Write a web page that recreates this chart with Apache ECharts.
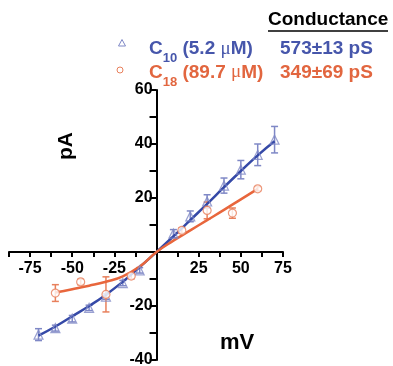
<!DOCTYPE html>
<html><head><meta charset="utf-8">
<script src="https://cdn.jsdelivr.net/npm/echarts@6/dist/echarts.min.js"></script>
<style>html,body{margin:0;padding:0;background:#fff}#c{width:393px;height:366px}</style>
</head><body><div id="c"></div>
<script>
// C10 (blue triangles)
const c10X   = [-70, -60, -50, -40, -30, -20, -10, 10, 20, 30, 40, 50, 60, 70];
const c10Y   = [-30.6, -28.2, -24.7, -20.7, -16.5, -11.5, -6.8, 6.8, 13.2, 18.7, 24.6, 30.5, 36.0, 41.6];
const c10Err = [2.2, 1.1, 1.2, 1.0, 1.0, 1.0, 1.0, 1.5, 2.0, 2.5, 2.8, 3.4, 4.0, 4.9];
// C18 (orange circles)
const c18X   = [-60, -45, -30, -15, 15, 30, 45, 60];
const c18Y   = [-15.2, -11.1, -15.7, -8.9, 8.0, 15.4, 14.4, 23.4];
const c18Err = [3.1, 1.0, 6.5, 1.0, 1.0, 3.1, 1.9, 0.8];
// Fit curves
const fitC10X = [-70, -60, -50, -40, -30, -20, -10, 0, 10, 20, 30, 40, 50, 60, 70];
const fitC10Y = [-31, -27.6, -23.8, -20, -15.8, -11, -5.6, 0, 5.8, 11.8, 17.8, 24, 30, 35.8, 41];
const fitC18X = [-60, -50, -40, -30, -20, -10, 0, 10, 20, 30, 40, 50, 60];
const fitC18Y = [-15, -13.8, -12.5, -11, -9, -5.4, 0, 4.2, 8.0, 11.8, 15.6, 19.5, 23.4];

const xTickLabels = ['-75', '-50', '-25', '25', '50', '75'];
const yTickLabels = ['60', '40', '20', '-20', '-40'];

const BLUE_LINE = '#3549a7', BLUE_MK = '#7f88c6', BLUE_TXT = '#4656ab';
const OR_LINE = '#e8663c', OR_MK = '#e8805c', OR_TXT = '#e2663f';

const zip = (a, b) => a.map((v, i) => [v, b[i]]);
const errData = (x, y, e) => x.map((v, i) => [v, y[i] - e[i], y[i] + e[i]]);

function errRender(color) {
  return function (params, api) {
    const x = api.value(0);
    const lo = api.coord([x, api.value(1)]);
    const hi = api.coord([x, api.value(2)]);
    const w = 3.5;
    const st = { stroke: color, lineWidth: 1.5 };
    return { type: 'group', children: [
      { type: 'line', shape: { x1: lo[0], y1: lo[1], x2: hi[0], y2: hi[1] }, style: st },
      { type: 'line', shape: { x1: lo[0] - w, y1: lo[1], x2: lo[0] + w, y2: lo[1] }, style: st },
      { type: 'line', shape: { x1: hi[0] - w, y1: hi[1], x2: hi[0] + w, y2: hi[1] }, style: st }
    ]};
  };
}

const F = 'Liberation Sans, Arial, sans-serif';
const W = 393, H = 366;
const G = { left: 9, right: 110, top: 90, bottom: 6 };
const XMIN = -87.5, XMAX = 75, YMIN = -40, YMAX = 60;
const gw = W - G.left - G.right, gh = H - G.top - G.bottom;
const yAxisOffset = -gw * (0 - XMIN) / (XMAX - XMIN);   // move y axis to x = 0
const xAxisOffset = -gh * (0 - YMIN) / (YMAX - YMIN);   // move x axis to y = 0

const chart = echarts.init(document.getElementById('c'), null, { renderer: 'canvas' });
chart.setOption({
  animation: false,
  grid: { left: G.left, right: G.right, top: G.top, bottom: G.bottom, containLabel: false, outerBoundsMode: 'none' },
  xAxis: {
    type: 'value', min: XMIN, max: XMAX, interval: 12.5, position: 'bottom', offset: xAxisOffset,
    axisLine: { onZero: false, lineStyle: { color: '#000', width: 2 } },
    axisTick: { show: true, length: 5, lineStyle: { color: '#000', width: 2 } },
    axisLabel: {
      margin: 9, color: '#000', fontFamily: F, fontWeight: 'bold', fontSize: 16,
      showMinLabel: true, showMaxLabel: true, hideOverlap: false,
      formatter: v => { const s = String(v); return xTickLabels.includes(s) ? s : ''; }
    },
    splitLine: { show: false }
  },
  yAxis: {
    type: 'value', min: YMIN, max: YMAX, interval: 10, position: 'left', offset: yAxisOffset,
    axisLine: { onZero: false, lineStyle: { color: '#000', width: 2 } },
    axisTick: { show: true, length: 7, lineStyle: { color: '#000', width: 2 } },
    axisLabel: {
      margin: 4, color: '#000', fontFamily: F, fontWeight: 'bold', fontSize: 16, hideOverlap: false,
      formatter: v => { const s = String(v); return yTickLabels.includes(s) ? s : ''; }
    },
    splitLine: { show: false }
  },
  series: [
    { type: 'line', data: zip(fitC10X, fitC10Y), smooth: true, symbol: 'none', lineStyle: { color: BLUE_LINE, width: 2.5 }, z: 3 },
    { type: 'line', data: zip(fitC18X, fitC18Y), smooth: true, symbol: 'none', lineStyle: { color: OR_LINE, width: 2.5 }, z: 3 },
    { type: 'custom', data: errData(c10X, c10Y, c10Err), renderItem: errRender(BLUE_MK), encode: { x: 0, y: [1, 2] }, z: 2 },
    { type: 'custom', data: errData(c18X, c18Y, c18Err), renderItem: errRender(OR_MK), encode: { x: 0, y: [1, 2] }, z: 2 },
    { type: 'scatter', data: zip(c10X, c10Y), symbol: 'triangle', symbolSize: 9,
      itemStyle: { color: 'rgba(255,255,255,0)', borderColor: BLUE_MK, borderWidth: 1.2 }, z: 4 },
    { type: 'scatter', data: zip(c18X, c18Y), symbol: 'circle', symbolSize: 8,
      itemStyle: { color: '#fff', borderColor: OR_MK, borderWidth: 1.2 }, z: 4 }
  ],
  graphic: [
    { type: 'text', left: 268, top: 10, style: { text: 'Conductance', font: 'bold 19px ' + F, fill: '#000' } },
    { type: 'line', shape: { x1: 268, y1: 31, x2: 388, y2: 31 }, style: { stroke: '#000', lineWidth: 1.5 } },
    { type: 'polygon', shape: { points: [[122, 39.5], [118.5, 46], [125.5, 46]] }, style: { fill: 'none', stroke: BLUE_MK, lineWidth: 1 } },
    { type: 'circle', shape: { cx: 120, cy: 70, r: 3 }, style: { fill: 'none', stroke: OR_MK, lineWidth: 1 } },
    { type: 'text', x: 149, y: 49, style: {
      text: '{a|C}{s|10}{a| (5.2 }{m|μ}{a|M)}', verticalAlign: 'middle',
      rich: {
        a: { font: 'bold 19px ' + F, fill: BLUE_TXT, lineHeight: 24, verticalAlign: 'middle' },
        s: { font: 'bold 13px ' + F, fill: BLUE_TXT, lineHeight: 24, verticalAlign: 'bottom', padding: [0, 0, -4, 0] },
        m: { font: '19px Liberation Serif, serif', fill: BLUE_TXT, lineHeight: 24, verticalAlign: 'middle' }
      } } },
    { type: 'text', x: 280, y: 49, style: { text: '573±13 pS', font: 'bold 19px ' + F, fill: BLUE_TXT, verticalAlign: 'middle' } },
    { type: 'text', x: 149, y: 72.5, style: {
      text: '{a|C}{s|18}{a| (89.7 }{m|μ}{a|M)}', verticalAlign: 'middle',
      rich: {
        a: { font: 'bold 19px ' + F, fill: OR_TXT, lineHeight: 24, verticalAlign: 'middle' },
        s: { font: 'bold 13px ' + F, fill: OR_TXT, lineHeight: 24, verticalAlign: 'bottom', padding: [0, 0, -4, 0] },
        m: { font: '19px Liberation Serif, serif', fill: OR_TXT, lineHeight: 24, verticalAlign: 'middle' }
      } } },
    { type: 'text', x: 280, y: 72.5, style: { text: '349±69 pS', font: 'bold 19px ' + F, fill: OR_TXT, verticalAlign: 'middle' } },
    { type: 'text', x: 66, y: 146, rotation: Math.PI / 2, style: { text: 'pA', font: 'bold 21px ' + F, fill: '#000', align: 'center', verticalAlign: 'middle' } },
    { type: 'text', x: 237, y: 343, style: { text: 'mV', font: 'bold 22px ' + F, fill: '#000', align: 'center', verticalAlign: 'middle' } }
  ]
});
</script>
</body></html>
